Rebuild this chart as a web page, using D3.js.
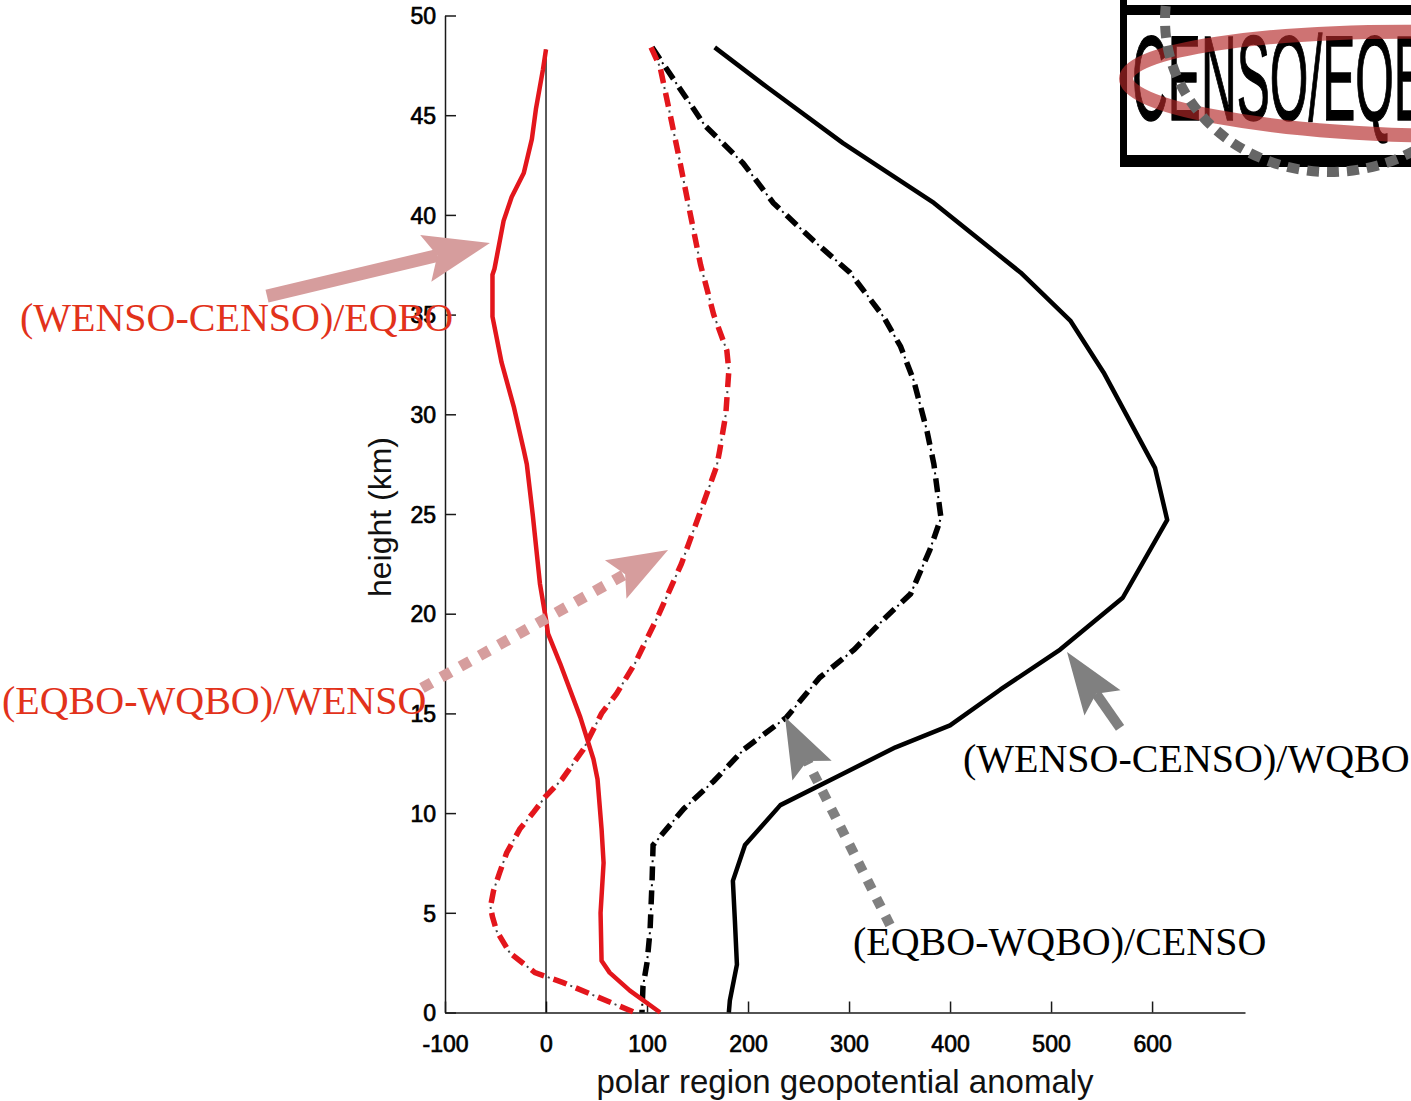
<!DOCTYPE html>
<html>
<head>
<meta charset="utf-8">
<script src="https://cdn.jsdelivr.net/npm/d3@7"></script>
<style>
  html, body { margin: 0; padding: 0; background: #fff; }
  svg { display: block; }
</style>
</head>
<body>
<svg id="chart" width="1411" height="1101"></svg>
<script>
// ---- axis ticks ----
const heightTicks = [0, 5, 10, 15, 20, 25, 30, 35, 40, 45, 50];
const anomalyTicks = [-100, 0, 100, 200, 300, 400, 500, 600];

// ---- profiles: height (km) and polar geopotential anomaly ----
// (WENSO-CENSO)/EQBO  (red, solid)
const wcEqboHeight = [48.3, 47.3, 45.3, 43.8, 42.1, 40.9, 39.7, 37.3, 37.0, 34.9, 32.6, 30.4, 28.2, 27.5, 24.9, 21.5, 19.7, 19.0, 17.5, 14.8, 12.7, 11.7, 9.2, 7.5, 5.0, 2.6, 2.0, 1.1, 0];
const wcEqboValue  = [0, -3, -10, -14, -22, -34, -42, -51, -53, -53, -44, -32, -22, -19, -13, -6, 0, 2, 14, 34, 47, 51, 55, 57, 54, 55, 63, 83, 113];

// (EQBO-WQBO)/WENSO  (red, dash-dot)
const ewWensoHeight = [48.4, 47.4, 45.0, 42.8, 40.0, 37.5, 35.0, 33.2, 32.2, 30.0, 28.2, 27.4, 25.0, 22.5, 20.0, 17.5, 16.0, 15.0, 13.2, 11.7, 10.8, 10.0, 9.2, 8.0, 7.0, 6.1, 5.3, 4.8, 4.1, 3.0, 2.0, 1.5, 0.8, 0];
const ewWensoValue  = [104, 113, 123, 132, 143, 153, 166, 179, 181, 178, 172, 169, 152, 134, 112, 88, 70, 55, 37, 16, -1, -13, -26, -39, -46, -52, -55, -53, -49, -36, -11, 17, 50, 88];

// (EQBO-WQBO)/CENSO  (black, dash-dot)
const ewCensoHeight = [48.4, 44.5, 42.6, 40.6, 38.7, 37.1, 34.9, 33.4, 31.7, 29.2, 27.5, 24.8, 23.2, 21.0, 19.9, 18.2, 16.8, 14.8, 13.2, 11.6, 10.2, 8.4, 6.6, 4.1, 2.5, 1.3, 0];
const ewCensoValue  = [105, 157, 195, 225, 265, 301, 334, 351, 364, 377, 384, 391, 380, 361, 338, 305, 271, 238, 196, 166, 136, 106, 105, 103, 100, 96, 95];

// (WENSO-CENSO)/WQBO  (black, solid)
const wcWqboHeight = [48.4, 46.4, 43.6, 40.6, 37.1, 34.7, 32.1, 27.3, 24.7, 20.8, 18.2, 16.2, 14.4, 13.3, 11.9, 10.4, 8.4, 6.6, 4.6, 2.4, 0.6, 0];
const wcWqboValue  = [167, 219, 294, 384, 470, 519, 552, 603, 615, 571, 509, 450, 400, 346, 291, 232, 197, 185, 187, 189, 182, 181];

// ---- annotation labels and their arrows (anchors in data units) ----
const labelText = ["(WENSO-CENSO)/EQBO", "(EQBO-WQBO)/WENSO", "(WENSO-CENSO)/WQBO", "(EQBO-WQBO)/CENSO"];
const labelAnchor = [[-520.8, 34.18], [-538.6, 14.97], [412.8, 12.06], [303.9, 2.88]];
const arrowTail = [[-276.2, 35.93], [-122.8, 16.27], [568.3, 14.27], [340.5, 4.39]];
const arrowTip  = [[-55.5, 38.59], [120.8, 23.19], [515.8, 18.08], [236.6, 14.82]];

// ---- scales ----
const svg = d3.select("#chart");
const x = d3.scaleLinear().domain([-100, 692]).range([445, 1245]);
const y = d3.scaleLinear().domain([0, 50]).range([1012.5, 15.5]);

const tickFont = "'Liberation Sans', Arial, sans-serif";

// ---- axes (ticks drawn inward) ----
const yAxis = svg.append("g")
  .attr("transform", `translate(${x(-100)},0)`)
  .call(d3.axisLeft(y).tickValues(heightTicks).tickSize(-11).tickSizeOuter(0).tickPadding(9).tickFormat(d3.format("d")));
const xAxis = svg.append("g")
  .attr("transform", `translate(0,${y(0)})`)
  .call(d3.axisBottom(x).tickValues(anomalyTicks).tickSize(-11).tickSizeOuter(0).tickPadding(23).tickFormat(d3.format("d")));

[yAxis, xAxis].forEach(g => {
  g.select(".domain").attr("stroke", "#1a1a1a").attr("stroke-width", 1.5);
  g.selectAll(".tick line").attr("stroke", "#1a1a1a").attr("stroke-width", 1.5);
  g.selectAll(".tick text")
    .attr("font-family", tickFont)
    .attr("font-size", 23)
    .attr("fill", "#000")
    .attr("stroke", "#000")
    .attr("stroke-width", 0.7);
});
yAxis.selectAll(".tick text").attr("dy", "0.36em");
xAxis.selectAll(".tick text").text(d => d < 0 ? "-" + Math.abs(d) : d);

// axis titles
svg.append("text")
  .attr("x", (x(-100) + x(692)) / 2)
  .attr("y", 1093)
  .attr("text-anchor", "middle")
  .attr("font-family", tickFont)
  .attr("font-size", 33)
  .attr("fill", "#111")
  .text("polar region geopotential anomaly");

svg.append("text")
  .attr("transform", `translate(391,${(y(0) + y(50)) / 2 + 3}) rotate(-90)`)
  .attr("text-anchor", "middle")
  .attr("font-family", tickFont)
  .attr("font-size", 32)
  .attr("fill", "#111")
  .text("height (km)");

// zero reference line
svg.append("line")
  .attr("x1", x(0)).attr("x2", x(0))
  .attr("y1", y(0)).attr("y2", y(48.3))
  .attr("stroke", "#000").attr("stroke-width", 1.3);

// ---- profile lines ----
const line = d3.line().x(d => x(d[0])).y(d => y(d[1]));
const pairs = (vals, hts) => vals.map((v, i) => [v, hts[i]]);

function dashDot(data, color, dotColor) {
  svg.append("path").datum(data)
    .attr("d", line).attr("fill", "none")
    .attr("stroke", color).attr("stroke-width", 5.5)
    .attr("stroke-dasharray", "14 10");
  svg.append("path").datum(data)
    .attr("d", line).attr("fill", "none")
    .attr("stroke", dotColor).attr("stroke-width", 2)
    .attr("stroke-dasharray", "2 22")
    .attr("stroke-dashoffset", -18);
}

dashDot(pairs(ewCensoValue, ewCensoHeight), "#000", "#000");
svg.append("path").datum(pairs(wcWqboValue, wcWqboHeight))
  .attr("d", line).attr("fill", "none")
  .attr("stroke", "#000").attr("stroke-width", 4.5)
  .attr("stroke-linejoin", "round");
dashDot(pairs(ewWensoValue, ewWensoHeight), "#e3161c", "#444");
svg.append("path").datum(pairs(wcEqboValue, wcEqboHeight))
  .attr("d", line).attr("fill", "none")
  .attr("stroke", "#e3161c").attr("stroke-width", 4.5)
  .attr("stroke-linejoin", "round");

// ---- annotation arrows ----
function arrow(tail, tip, color, dotted, width, headLen, headHalf) {
  const x0 = x(tail[0]), y0 = y(tail[1]), x1 = x(tip[0]), y1 = y(tip[1]);
  const len = Math.hypot(x1 - x0, y1 - y0);
  const ux = (x1 - x0) / len, uy = (y1 - y0) / len;
  const nx = -uy, ny = ux;
  const bx = x1 - ux * headLen, by = y1 - uy * headLen;
  const kx = x1 - ux * headLen * 0.82, ky = y1 - uy * headLen * 0.82;
  svg.append("line")
    .attr("x1", x0).attr("y1", y0).attr("x2", kx).attr("y2", ky)
    .attr("stroke", color).attr("stroke-width", width)
    .attr("stroke-dasharray", dotted ? `${width} ${width}` : null);
  svg.append("path")
    .attr("d", `M${x1},${y1}L${bx + nx * headHalf},${by + ny * headHalf}L${kx},${ky}L${bx - nx * headHalf},${by - ny * headHalf}Z`)
    .attr("fill", color);
}
const pink = "#d69d9d", grey = "#808080";
arrow(arrowTail[0], arrowTip[0], pink, false, 13, 66, 24);
arrow(arrowTail[1], arrowTip[1], pink, true, 11, 60, 22);
arrow(arrowTail[2], arrowTip[2], grey, false, 10, 62, 22);
arrow(arrowTail[3], arrowTip[3], grey, true, 10, 60, 22);

// ---- annotation labels ----
const labelColor = ["#e2321b", "#e2321b", "#000", "#000"];
labelText.forEach((t, i) => {
  svg.append("text")
    .attr("x", x(labelAnchor[i][0]))
    .attr("y", y(labelAnchor[i][1]))
    .attr("font-family", "'Liberation Serif', 'Times New Roman', serif")
    .attr("font-size", 40)
    .attr("fill", labelColor[i])
    .text(t);
});

// ---- inset key in the upper right corner ----
const inset = svg.append("g");
inset.append("text")
  .attr("transform", "translate(1132,120) scale(0.41,1)")
  .attr("font-family", tickFont)
  .attr("font-size", 121)
  .attr("fill", "#000")
  .attr("stroke", "#000")
  .attr("stroke-width", 1.5)
  .text("CENSO/EQBO");
inset.append("line").attr("x1", 1123.5).attr("x2", 1123.5).attr("y1", 0).attr("y2", 167)
  .attr("stroke", "#000").attr("stroke-width", 7);
inset.append("line").attr("x1", 1120).attr("x2", 1411).attr("y1", 10).attr("y2", 10)
  .attr("stroke", "#000").attr("stroke-width", 10);
inset.append("line").attr("x1", 1120).attr("x2", 1411).attr("y1", 161).attr("y2", 161)
  .attr("stroke", "#000").attr("stroke-width", 12);
inset.append("ellipse")
  .attr("transform", "translate(1440,84) rotate(1)")
  .attr("rx", 314).attr("ry", 52)
  .attr("fill", "none")
  .attr("stroke", "rgb(180,40,40)").attr("stroke-opacity", 0.65)
  .attr("stroke-width", 14);
inset.append("ellipse")
  .attr("cx", 1330).attr("cy", 20)
  .attr("rx", 165).attr("ry", 152)
  .attr("fill", "none")
  .attr("stroke", "#666").attr("stroke-width", 10)
  .attr("stroke-dasharray", "12 8");
</script>
</body>
</html>
